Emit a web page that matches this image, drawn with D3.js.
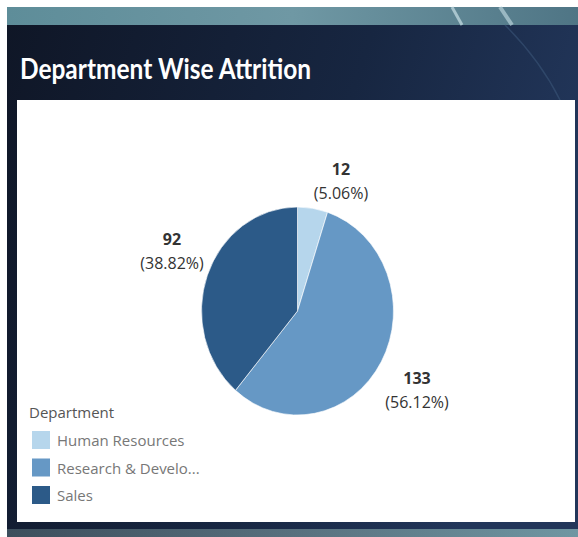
<!DOCTYPE html>
<html><head><meta charset="utf-8">
<script src="https://cdn.jsdelivr.net/npm/d3@7"></script>
<style>html,body{margin:0;padding:0;background:#fff;}svg{display:block;}</style>
</head><body>
<svg id="c" width="578" height="537"></svg>
<script>
const categories = ["Human Resources", "Research & Develo...", "Sales"];
const values = [12, 133, 92];
const percentLabels = ["5.06%", "56.12%", "38.82%"];
const colors = ["#b6d6ec", "#6698c5", "#2c5a88"];
const title = "Department Wise Attrition";
const legendTitle = "Department";

const svg = d3.select("#c");
const defs = svg.append("defs");

// background gradients
const g1 = defs.append("linearGradient").attr("id","band").attr("x1","0").attr("x2","1");
g1.append("stop").attr("offset","0").attr("stop-color","#5e8d99");
g1.append("stop").attr("offset","0.5").attr("stop-color","#6f98a4");
g1.append("stop").attr("offset","1").attr("stop-color","#4f7585");
const g2 = defs.append("linearGradient").attr("id","dark").attr("x1","0").attr("x2","1").attr("y1","0").attr("y2","0.3");
g2.append("stop").attr("offset","0").attr("stop-color","#0f1626");
g2.append("stop").attr("offset","0.6").attr("stop-color","#172641");
g2.append("stop").attr("offset","1").attr("stop-color","#22365a");
const g3 = defs.append("linearGradient").attr("id","bot").attr("x1","0").attr("x2","1");
g3.append("stop").attr("offset","0").attr("stop-color","#3c4e5c");
g3.append("stop").attr("offset","0.5").attr("stop-color","#58707e");
g3.append("stop").attr("offset","1").attr("stop-color","#6f96a2");

svg.append("rect").attr("x",7).attr("y",7).attr("width",571).attr("height",530).attr("fill","url(#dark)");
svg.append("rect").attr("x",7).attr("y",7).attr("width",571).attr("height",18).attr("fill","url(#band)");
svg.append("rect").attr("x",7).attr("y",529).attr("width",571).attr("height",8).attr("fill","url(#bot)");
// subtle streaks
svg.append("path").attr("d","M452,7 L462,25").attr("stroke","#c8e0e6").attr("stroke-width",3).attr("opacity",0.7);
svg.append("path").attr("d","M500,7 L512,25").attr("stroke","#c8e0e6").attr("stroke-width",4).attr("opacity",0.6);
svg.append("path").attr("d","M505,25 Q540,60 560,100").attr("stroke","#3b5578").attr("stroke-width",1.5).attr("fill","none").attr("opacity",0.6);

// white panel
svg.append("rect").attr("x",17).attr("y",100).attr("width",558).attr("height",422).attr("fill","#ffffff");

// title
svg.append("text").attr("x",20).attr("y",79)
  .attr("font-family","Lato, 'Open Sans', sans-serif").attr("font-weight","bold")
  .attr("font-size",28).attr("fill","#ffffff")
  .attr("textLength",291).attr("lengthAdjust","spacingAndGlyphs")
  .text(title);

// pie
const cx = 297.5, cy = 311, rx = 96, ry = 104;
const pie = d3.pie().sort(null).value(d => d)(values);
const arc = d3.arc().innerRadius(0).outerRadius(rx);
const pg = svg.append("g").attr("transform", `translate(${cx},${cy}) scale(1,${ry/rx})`);
pg.selectAll("path").data(pie).join("path")
  .attr("d", arc).attr("fill", (d,i) => colors[i])
  .attr("stroke","#ffffff").attr("stroke-width",0.6);

// labels
const labelPos = [[341,175],[417,384],[172,245]];
const lg = svg.append("g").attr("font-family","'Open Sans', sans-serif").attr("fill","#333");
values.forEach((v,i) => {
  const [x,y] = labelPos[i];
  lg.append("text").attr("x",x).attr("y",y).attr("text-anchor","middle")
    .attr("font-size",16).attr("font-weight","bold").attr("fill","#333").text(v);
  lg.append("text").attr("x",x).attr("y",y+24).attr("text-anchor","middle")
    .attr("font-size",16).attr("fill","#333").text(`(${percentLabels[i]})`);
});

// legend
const leg = svg.append("g").attr("font-family","'Open Sans', sans-serif");
leg.append("text").attr("x",29).attr("y",418).attr("font-size",15).attr("fill","#555").text(legendTitle);
categories.forEach((c,i) => {
  const y = 431 + i*27.5;
  leg.append("rect").attr("x",32).attr("y",y).attr("width",18).attr("height",18).attr("fill",colors[i]);
  leg.append("text").attr("x",57).attr("y",y+15).attr("font-size",15).attr("fill","#777").text(c);
});
</script>
</body></html>
